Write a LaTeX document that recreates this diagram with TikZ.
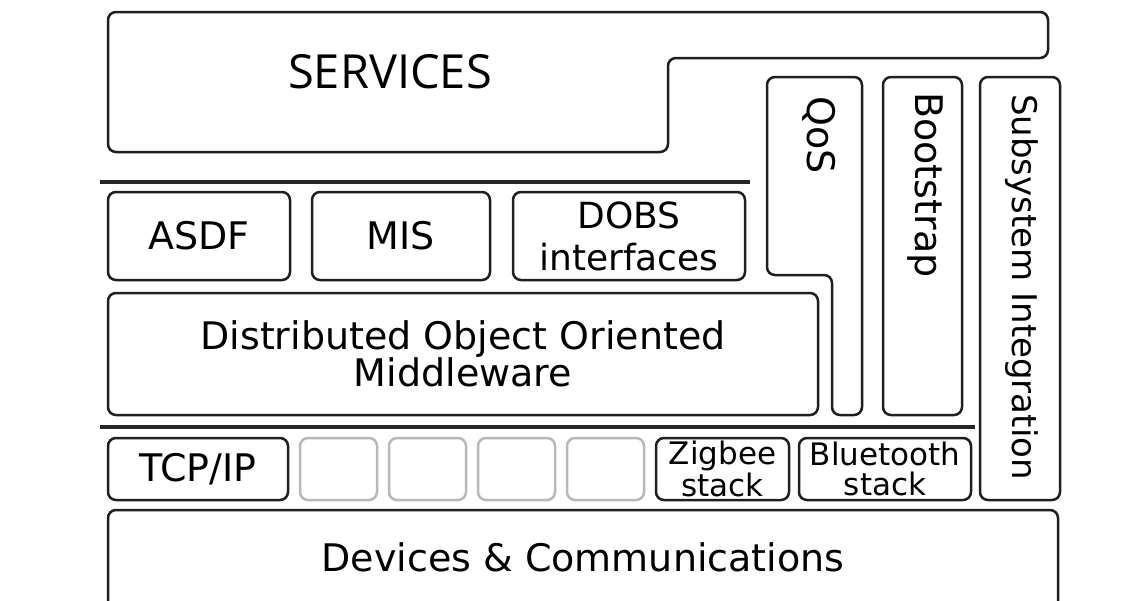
\documentclass[tikz,border=0pt]{standalone}
\usepackage{fontspec}
\setmainfont{DejaVu Sans}
\newfontfamily\servfont{Open Sans}
\usetikzlibrary{positioning}

\tikzset{
  blk/.style={draw=black!88, line width=1.25pt, rounded corners=4pt, inner sep=0pt, align=center, font=\fontsize{19pt}{20pt}\selectfont},
  blank/.style={blk, draw=black!28},
  smalltxt/.style={font=\fontsize{15.5pt}{15pt}\selectfont},
  vtxt/.style={rotate=-90, inner sep=0pt, font=\fontsize{19pt}{20pt}\selectfont},
  sepline/.style={line width=2.4pt, draw=black!85},
}

\begin{document}
\begin{tikzpicture}[x=0.5pt, y=-0.5pt]
\clip (0,0) rectangle (1138,600);
\fill[white] (0,0) rectangle (1138,600);

% services on top
\draw[blk] (400,12) -- (1048,12) -- (1048,58) -- (668,58) -- (668,152) -- (108,152) -- (108,12) -- cycle;
\node[inner sep=0pt, font=\servfont\fontsize{23.5pt}{24pt}\selectfont] (services) at (390,72) {SERVICES};

\draw[sepline] (100,182) -- (750,182);

% middleware
\node[blk, minimum width=91pt, minimum height=44pt] (asdf) at (199,236) {ASDF};
\node[blk, minimum width=89pt, minimum height=44pt, right=9.75pt of asdf] (mis) {MIS};
\node[blk, minimum width=116pt, minimum height=44pt, right=10.25pt of mis, font=\fontsize{18pt}{21pt}\selectfont] (dobs) {DOBS\\interfaces};
\node[blk, minimum width=355pt, minimum height=61pt, font=\fontsize{19pt}{18.5pt}\selectfont] (doom) at (463,354) {Distributed Object Oriented\\Middleware};

% vertical columns
\draw[blk] (815,77) -- (862,77) -- (862,415) -- (832,415) -- (832,275) -- (767,275) -- (767,77) -- cycle;
\node[vtxt] (qos) at (819,135) {QoS};
\node[blk, minimum width=39.5pt, minimum height=169pt] (boot) at (922.5,246) {};
\node[vtxt] (bootlbl) at (925,185) {Bootstrap};
\node[blk, minimum width=40pt, minimum height=211.5pt] (subsys) at (1020,288.5) {};
\node[vtxt, font=\fontsize{17pt}{18pt}\selectfont] (subsyslbl) at (1022,287) {Subsystem Integration};

\draw[sepline] (100,427) -- (975,427);

% stacks
\node[blk, minimum width=90pt, minimum height=31pt] (tcp) at (198,469) {TCP/IP};
\node[blank, minimum width=38.5pt, minimum height=31pt, right=4.75pt of tcp] (free1) {};
\foreach \i [count=\j from 1] in {2,3,4}
  \node[blank, minimum width=38.5pt, minimum height=31pt, right=4.75pt of free\j] (free\i) {};
\node[blk, smalltxt, minimum width=66.5pt, minimum height=31pt, right=4.75pt of free4] (zigbee) {Zigbee\\stack};
\node[blk, smalltxt, minimum width=86pt, minimum height=31pt, right=3.75pt of zigbee] (bluetooth) {Bluetooth\\stack};

% devices, cut by the lower edge
\node[blk, minimum width=475pt, minimum height=52pt, text depth=5pt] (devices) at (583,562) {Devices \& Communications};
\end{tikzpicture}
\end{document}
